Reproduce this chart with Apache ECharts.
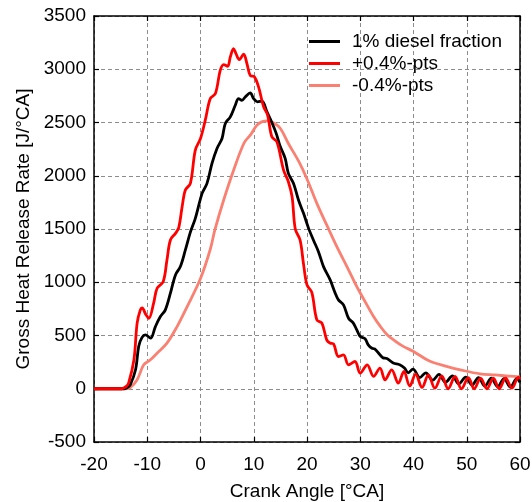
<!DOCTYPE html>
<html><head><meta charset="utf-8">
<script src="https://cdn.jsdelivr.net/npm/echarts@6/dist/echarts.min.js"></script>
<style>html,body{margin:0;padding:0;background:#fff}#c{width:532px;height:502px}</style>
</head><body><div id="c"></div>
<script>
const seriesNames = ['1% diesel fraction', '+0.4%-pts', '-0.4%-pts'];

const baseAngle = [-20,-14.5,-13.8,-13.2,-12.2,-11.6,-11.0,-10.35,-9.4,-8.47,-7.53,-6.6,-5.65,-4.7,-3.78,-2.84,-1.9,-0.97,0.3,1.22,2.16,3.1,4.04,4.66,5.6,6.53,7.15,7.78,8.4,9.35,9.97,10.7,11.54,12.48,13.4,14.2,15,15.9,16.5,17.47,18.4,19.35,20.3,21.2,22.15,23.1,24.35,25.3,25.9,26.85,27.8,28.7,29.35,30,30.9,31.5,32.2,32.7,33.7,34.3,35,36.2,37.4,38.3,39,39.9,41.2,42.3,43.6,44.8,46,47.3,48.5,49.8,51,52.2,53.4,54.6,55.8,57,58.2,59.4,60];
const baseHRR = [0,0,10,37,178,400,480,505,475,584,678,741,897,1069,1147,1303,1470,1600,1834,1928,2116,2256,2350,2491,2553,2662,2725,2709,2740,2778,2725,2694,2700,2600,2500,2400,2272,2163,2022,1928,1772,1647,1506,1397,1287,1147,1022,897,834,788,662,616,553,491,470,412,380,375,319,290,285,241,225,194,150,185,105,150,80,135,60,120,45,110,35,105,25,100,20,95,15,95,60];

const plusAngle = [-20,-14.8,-14.0,-13.5,-12.5,-11.9,-11.3,-10.96,-10.3,-9.7,-8.8,-8.15,-7.0,-6.3,-5.65,-4.7,-4.1,-3.45,-2.84,-1.9,-0.97,0,0.9,1.84,2.8,3.72,4.35,5.1,5.6,6.2,6.66,7.28,8.1,8.72,9.35,10.1,10.9,11.84,12.6,13.4,14.35,15.6,16.5,17.2,17.8,18.7,19.35,20,20.9,21.85,22.8,23.7,24.3,25.0,25.9,26.85,27.8,29,30,31.3,32.5,33.7,34.66,35.9,37.15,38.2,39.3,40.4,41.6,42.8,44,45.3,46.5,47.8,49,50.3,51.4,52.6,53.8,55,56.1,57.3,58.5,59.7,60];
const plusHRR = [0,0,20,53,272,616,740,760,700,662,803,944,1006,1209,1397,1459,1510,1709,1866,1928,2241,2350,2522,2725,2772,2991,3044,3028,3116,3194,3147,3091,3141,3053,2940,2930,2834,2650,2570,2366,2318,2053,1944,1803,1500,1397,1170,975,905,647,616,459,430,420,303,319,225,256,147,225,116,194,84,178,53,162,25,137,12,130,5,120,0,115,0,105,0,100,0,100,0,100,5,110,90];

const minusAngle = [-20,-14,-13.2,-11.9,-10.66,-9.4,-8.15,-6.3,-4.4,-2.5,0,1.84,2.7,4.35,6.2,8.2,9.35,10.6,11.6,12.6,13.7,15,16.5,18.5,20,21.85,23.7,25.6,27.5,29.35,30.5,32.5,33.7,35,36.5,38,40,43,46.2,49,52.5,55.3,58,60];
const minusHRR = [0,0,10,84,225,272,334,428,584,772,1035,1310,1491,1772,2050,2310,2381,2475,2508,2516,2497,2444,2303,2130,1970,1741,1538,1334,1147,959,855,678,590,510,450,400,350,260,210,175,140,130,118,112];

const xTicks = {min: -20, max: 60, step: 10};
const yTicks = {min: -500, max: 3500, step: 500};

function zip(a, b) { const n = Math.min(a.length, b.length); const out = []; for (let i = 0; i < n; i++) out.push([a[i], b[i]]); return out; }

const FONT = 'Liberation Sans, Arial, sans-serif';
const colors = ['#000000', '#ff0000', '#fa8072'];
const dataSets = [zip(baseAngle, baseHRR), zip(plusAngle, plusHRR), zip(minusAngle, minusHRR)];
const zs = [3, 4, 2];

const chart = echarts.init(document.getElementById('c'), null, {renderer: 'canvas'});
const gridLine = {show: true, lineStyle: {color: '#8c8c8c', type: [4, 3], width: 1}};
const axLine = {show: true, onZero: false, lineStyle: {color: '#000', width: 1.5}};
const tick = {show: true, inside: true, length: 5, lineStyle: {color: '#000', width: 1.2}};
const plain = v => String(v);
chart.setOption({
  animation: false,
  backgroundColor: '#fff',
  grid: {left: 94, right: 12, top: 16, bottom: 60, containLabel: false, outerBoundsMode: 'none'},
  legend: {
    orient: 'vertical', left: 309, top: 32, padding: 0,
    itemWidth: 31, itemHeight: 3, itemGap: 3, icon: 'rect',
    textStyle: {fontSize: 19, fontFamily: FONT, color: '#000', padding: [0, 0, 0, 7]},
    data: seriesNames
  },
  xAxis: [{
    type: 'value', min: xTicks.min, max: xTicks.max, interval: xTicks.step,
    name: 'Crank Angle [°CA]', nameLocation: 'middle', nameGap: 40,
    nameTextStyle: {fontSize: 19, fontFamily: FONT, color: '#000'},
    axisLine: axLine, axisTick: tick, splitLine: gridLine,
    axisLabel: {fontSize: 19, fontFamily: FONT, color: '#000', margin: 13, formatter: plain}
  }, {
    type: 'value', position: 'top', min: xTicks.min, max: xTicks.max, interval: xTicks.step,
    axisLine: axLine, axisTick: tick, splitLine: {show: false}, axisLabel: {show: false}
  }],
  yAxis: [{
    type: 'value', min: yTicks.min, max: yTicks.max, interval: yTicks.step,
    name: 'Gross Heat Release Rate [J/°CA]', nameLocation: 'middle', nameGap: 57,
    nameTextStyle: {fontSize: 19, fontFamily: FONT, color: '#000'},
    axisLine: axLine, axisTick: tick, splitLine: gridLine,
    axisLabel: {fontSize: 19, fontFamily: FONT, color: '#000', margin: 8, formatter: plain}
  }, {
    type: 'value', position: 'right', min: yTicks.min, max: yTicks.max, interval: yTicks.step,
    axisLine: axLine, axisTick: tick, splitLine: {show: false}, axisLabel: {show: false}
  }],
  series: seriesNames.map((n, i) => ({
    name: n, type: 'line', data: dataSets[i], xAxisIndex: 0, yAxisIndex: 0,
    showSymbol: false, symbol: 'none', smooth: 0.35, z: zs[i],
    lineStyle: {color: colors[i], width: 2.8}, itemStyle: {color: colors[i]}
  }))
});
</script></body></html>
